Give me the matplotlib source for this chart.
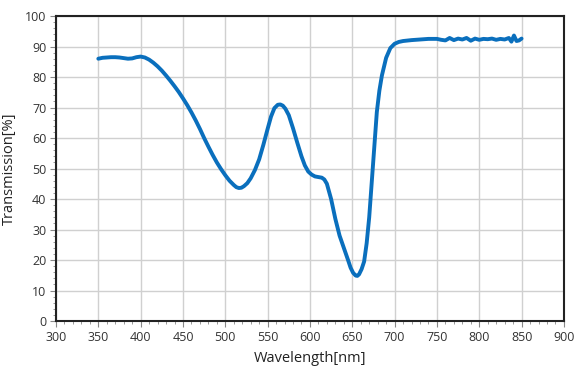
import matplotlib
matplotlib.use("Agg")
import matplotlib.pyplot as plt
from matplotlib.ticker import MultipleLocator

wavelength = [350, 355, 360, 365, 370, 375, 380, 385, 390, 395, 400, 405, 410, 415,
              420, 425, 430, 435, 440, 445, 450, 455, 460, 465, 470, 475, 480, 485,
              490, 495, 500, 505, 510, 513, 516, 519, 522, 526, 530, 535, 540, 545,
              550, 554, 558, 562, 565, 568, 571, 575, 580, 585, 590, 594, 598, 602,
              606, 610, 614, 617, 620, 625, 630, 635, 640, 645, 648, 651, 654, 656,
              658, 661, 664, 667, 670, 673, 676, 679, 682, 685, 690, 695, 700, 705,
              710, 720, 730, 740, 750, 755, 760, 765, 770, 775, 780, 785, 790, 795,
              800, 805, 810, 815, 820, 825, 830, 835, 838, 841, 844, 847, 850]
transmission = [86.0, 86.3, 86.4, 86.5, 86.5, 86.4, 86.2, 86.0, 86.1, 86.5, 86.7, 86.4,
                85.7, 84.7, 83.5, 82.1, 80.5, 78.8, 77.0, 75.1, 73.0, 70.8, 68.4, 65.8,
                63.0, 60.0, 57.2, 54.5, 52.0, 49.8, 47.8, 46.0, 44.6, 43.9, 43.6, 43.7,
                44.2, 45.2, 46.8, 49.5, 53.0, 57.8, 63.0, 67.0, 69.8, 70.9, 71.0, 70.6,
                69.6, 67.5, 63.2, 58.5, 54.0, 51.0, 49.0, 48.0, 47.4, 47.2, 47.0, 46.4,
                45.0, 40.0, 33.5, 28.0, 24.0, 20.0, 17.5, 15.8, 14.9, 14.8,
                15.3, 17.0, 19.5, 25.5, 34.0, 45.5, 57.0, 68.5, 75.5, 80.5, 86.3, 89.5,
                90.9, 91.5, 91.8, 92.1, 92.3, 92.5, 92.5, 92.2, 92.0, 92.8, 92.1, 92.6,
                92.3, 92.8, 91.9, 92.6, 92.2, 92.5, 92.4, 92.6, 92.2, 92.5, 92.3, 92.8,
                91.6, 93.6, 91.8, 92.0, 92.6]

plt.rcParams['font.family'] = ['Open Sans', 'DejaVu Sans']

fig = plt.figure(figsize=(5.76, 3.69), dpi=100)
ax = fig.add_axes([0.0972, 0.130, 0.8818, 0.8266])

ax.plot(wavelength, transmission, color='#0a6fbd', linewidth=2.8, solid_capstyle='round',
        solid_joinstyle='round', zorder=3)

ax.set_xlim(300, 900)
ax.set_ylim(0, 100)
ax.xaxis.set_major_locator(MultipleLocator(50))
ax.xaxis.set_minor_locator(MultipleLocator(10))
ax.yaxis.set_major_locator(MultipleLocator(10))
ax.yaxis.set_minor_locator(MultipleLocator(2))
ax.grid(True, which='major', color='#d0d0d0', linewidth=1.0)
for s in ax.spines.values():
    s.set_linewidth(1.5)
    s.set_color('#222222')
ax.tick_params(which='major', length=4, width=0.8, color='#888888', labelsize=9,
               labelcolor='#333333', pad=3)
ax.tick_params(which='minor', length=2.5, width=0.6, color='#888888')
ax.set_xlabel('Wavelength[nm]', fontsize=10.5, color='#222222', labelpad=5)
ax.set_ylabel('Transmission[%]', fontsize=10.5, color='#222222', labelpad=6)

fig.savefig('out.png', dpi=100)
